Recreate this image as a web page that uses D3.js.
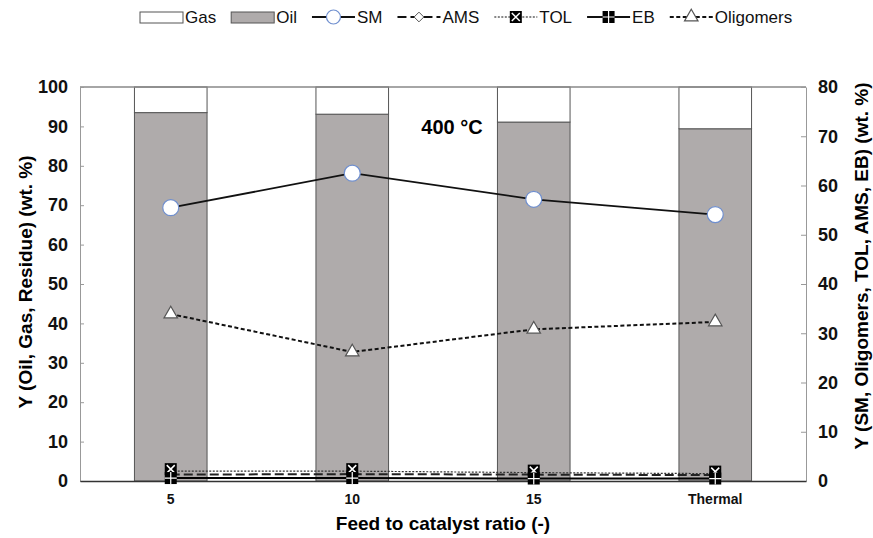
<!DOCTYPE html>
<html>
<head>
<meta charset="utf-8">
<script src="https://cdn.jsdelivr.net/npm/d3@7"></script>
<style>
body { margin: 0; background: #fff; }
text { font-family: "Liberation Sans", Arial, sans-serif; }
</style>
</head>
<body>
<div id="chart"></div>
<script>
// Width and height
var w = 873;
var h = 538;

// Data
var categories = ["5", "10", "15", "Thermal"];
var oil = [93.5, 93.1, 91.1, 89.4];
var gas = [6.5, 6.9, 8.9, 10.6];
var sm = [55.5, 62.5, 57.2, 54.1];
var oligomers = [33.9, 26.2, 30.8, 32.3];
var tol = [2.0, 2.0, 1.7, 1.5];
var ams = [1.3, 1.4, 1.3, 1.2];
var eb = [0.6, 0.6, 0.5, 0.5];
var leftTicks = [0, 10, 20, 30, 40, 50, 60, 70, 80, 90, 100];
var rightTicks = [0, 10, 20, 30, 40, 50, 60, 70, 80];

var plot = { left: 80, right: 806, top: 87, bottom: 481 };

var x = d3.scaleBand()
    .domain(categories)
    .range([plot.left, plot.right])
    .paddingInner(0.6)
    .paddingOuter(0.3);

var yL = d3.scaleLinear().domain([0, 100]).range([plot.bottom, plot.top]);
var yR = d3.scaleLinear().domain([0, 80]).range([plot.bottom, plot.top]);

var cx = function(i) { return x(categories[i]) + x.bandwidth() / 2; };

var svg = d3.select("#chart")
    .append("svg")
    .attr("width", w)
    .attr("height", h);

// Bars: oil then gas stacked on top
var bars = svg.append("g");
bars.selectAll("rect.oil")
    .data(oil)
    .enter()
    .append("rect")
    .attr("class", "oil")
    .attr("x", function(d, i) { return x(categories[i]); })
    .attr("width", x.bandwidth())
    .attr("y", function(d) { return yL(d); })
    .attr("height", function(d) { return yL(0) - yL(d); })
    .attr("fill", "#afabab")
    .attr("stroke", "#555")
    .attr("stroke-width", 1);

bars.selectAll("rect.gas")
    .data(gas)
    .enter()
    .append("rect")
    .attr("class", "gas")
    .attr("x", function(d, i) { return x(categories[i]); })
    .attr("width", x.bandwidth())
    .attr("y", function(d, i) { return yL(oil[i] + d); })
    .attr("height", function(d, i) { return yL(oil[i]) - yL(oil[i] + d); })
    .attr("fill", "#fff")
    .attr("stroke", "#555")
    .attr("stroke-width", 1);

// Frame and axes
svg.append("line")
    .attr("x1", plot.left).attr("x2", plot.right)
    .attr("y1", plot.top).attr("y2", plot.top)
    .attr("stroke", "#888").attr("stroke-width", 1.5);

var axisL = svg.append("g")
    .attr("transform", "translate(" + plot.left + ",0)")
    .call(d3.axisLeft(yL).tickValues(leftTicks).tickSizeInner(-4).tickSizeOuter(0).tickPadding(12));

var axisR = svg.append("g")
    .attr("transform", "translate(" + plot.right + ",0)")
    .call(d3.axisRight(yR).tickValues(rightTicks).tickSizeInner(-5).tickSizeOuter(0).tickPadding(12));

[axisL, axisR].forEach(function(a) {
    a.select(".domain").attr("stroke", "#999");
    a.selectAll(".tick line").attr("stroke", "#999");
    a.selectAll(".tick text")
        .attr("fill", "#111")
        .style("font-size", "18px")
        .style("font-weight", "bold");
});

var axisB = svg.append("g")
    .attr("transform", "translate(0," + plot.bottom + ")")
    .call(d3.axisBottom(x).tickSize(0).tickPadding(13));
axisB.select(".domain").attr("stroke", "#333").attr("stroke-width", 1.5);
axisB.selectAll(".tick text")
    .attr("fill", "#111")
    .style("font-size", "14px")
    .style("font-weight", "bold");

// Lines
var line = function(vals) {
    return d3.line()
        .x(function(d, i) { return cx(i); })
        .y(function(d) { return yR(d); })(vals);
};

svg.append("path").attr("d", line(eb))
    .attr("fill", "none").attr("stroke", "#000").attr("stroke-width", 2);
svg.append("path").attr("d", line(ams))
    .attr("fill", "none").attr("stroke", "#222").attr("stroke-width", 2).attr("stroke-dasharray", "9,4");
svg.append("path").attr("d", line(tol))
    .attr("fill", "none").attr("stroke", "#333").attr("stroke-width", 1.2).attr("stroke-dasharray", "2,1.5");
svg.append("path").attr("d", line(oligomers))
    .attr("fill", "none").attr("stroke", "#111").attr("stroke-width", 2).attr("stroke-dasharray", "4,2.5");
svg.append("path").attr("d", line(sm))
    .attr("fill", "none").attr("stroke", "#111").attr("stroke-width", 1.8);

// Marker helpers
function diamond(g, px, py) {
    g.append("path")
        .attr("d", d3.symbol().type(d3.symbolDiamond2).size(60)())
        .attr("transform", "translate(" + px + "," + py + ")")
        .attr("fill", "#fff").attr("stroke", "#555").attr("stroke-width", 1);
}
function tolMark(g, px, py) {
    var s = 6;
    var m = g.append("g").attr("transform", "translate(" + px + "," + py + ")");
    m.append("rect").attr("x", -s).attr("y", -s).attr("width", 2 * s).attr("height", 2 * s)
        .attr("fill", "#000");
    m.append("path").attr("d", "M" + (-s + 2) + "," + (-s + 2) + "L" + (s - 2) + "," + (s - 2) + "M" + (s - 2) + "," + (-s + 2) + "L" + (-s + 2) + "," + (s - 2))
        .attr("stroke", "#fff").attr("stroke-width", 1.5);
}
function ebMark(g, px, py) {
    var s = 6;
    var m = g.append("g").attr("transform", "translate(" + px + "," + py + ")");
    m.append("rect").attr("x", -s).attr("y", -s).attr("width", 2 * s).attr("height", 2 * s)
        .attr("fill", "#000");
    m.append("path").attr("d", "M0," + (-s) + "L0," + s + "M" + (-s) + ",0L" + s + ",0")
        .attr("stroke", "#fff").attr("stroke-width", 1.2);
}
function triangle(g, px, py) {
    g.append("path")
        .attr("d", d3.symbol().type(d3.symbolTriangle2).size(130)())
        .attr("transform", "translate(" + px + "," + py + ")")
        .attr("fill", "#fff").attr("stroke", "#555").attr("stroke-width", 1.2);
}
function circle(g, px, py, r) {
    g.append("circle").attr("cx", px).attr("cy", py).attr("r", r || 8)
        .attr("fill", "#fff").attr("stroke", "#6f8fcf").attr("stroke-width", 1.2);
}

var marks = svg.append("g");
categories.forEach(function(c, i) {
    diamond(marks, cx(i), yR(ams[i]));
    tolMark(marks, cx(i), yR(tol[i]) - 2);
    ebMark(marks, cx(i), yR(eb[i]));
    triangle(marks, cx(i), yR(oligomers[i]));
    circle(marks, cx(i), yR(sm[i]));
});

// Annotation
svg.append("text")
    .attr("x", 452).attr("y", 134)
    .attr("text-anchor", "middle")
    .style("font-size", "20px").style("font-weight", "bold")
    .text("400 °C");

// Axis titles
svg.append("text")
    .attr("transform", "translate(32,282) rotate(-90)")
    .attr("text-anchor", "middle")
    .style("font-size", "19px").style("font-weight", "bold")
    .text("Y (Oil, Gas, Residue)  (wt. %)");

svg.append("text")
    .attr("transform", "translate(868,266) rotate(-90)")
    .attr("text-anchor", "middle")
    .style("font-size", "19px").style("font-weight", "bold")
    .text("Y (SM, Oligomers, TOL, AMS, EB) (wt. %)");

svg.append("text")
    .attr("x", (plot.left + plot.right) / 2).attr("y", 530)
    .attr("text-anchor", "middle")
    .style("font-size", "19px").style("font-weight", "bold")
    .text("Feed to catalyst ratio (-)");

// Legend
var ly = 17;
var legend = svg.append("g");
var lx = 140;
var symW = 43, gapText = 2, gapItem = 15;

function legendItem(label, draw) {
    draw(lx, lx + symW);
    var t = legend.append("text").attr("x", lx + symW + gapText).attr("y", ly + 6)
        .style("font-size", "17px").attr("fill", "#111").text(label);
    lx = lx + symW + gapText + t.node().getComputedTextLength() + gapItem;
}
function legendLine(x1, x2, dash, width) {
    legend.append("line").attr("x1", x1).attr("x2", x2).attr("y1", ly).attr("y2", ly)
        .attr("stroke", "#111").attr("stroke-width", width).attr("stroke-dasharray", dash);
}

legendItem("Gas", function(a, b) {
    legend.append("rect").attr("x", a).attr("y", ly - 5).attr("width", b - a).attr("height", 11)
        .attr("fill", "#fff").attr("stroke", "#555");
});
legendItem("Oil", function(a, b) {
    legend.append("rect").attr("x", a).attr("y", ly - 5).attr("width", b - a).attr("height", 11)
        .attr("fill", "#afabab").attr("stroke", "#555");
});
legendItem("SM", function(a, b) {
    legendLine(a, b, null, 1.8);
    circle(legend, (a + b) / 2, ly, 7);
});
legendItem("AMS", function(a, b) {
    legendLine(a, b, "9,4", 2);
    diamond(legend, (a + b) / 2, ly);
});
legendItem("TOL", function(a, b) {
    legendLine(a, b, "2,1.5", 1.2);
    tolMark(legend, (a + b) / 2, ly);
});
legendItem("EB", function(a, b) {
    legendLine(a, b, null, 2);
    ebMark(legend, (a + b) / 2, ly);
});
legendItem("Oligomers", function(a, b) {
    legendLine(a, b, "4,2.5", 2);
    triangle(legend, (a + b) / 2, ly);
});
</script>
</body>
</html>
